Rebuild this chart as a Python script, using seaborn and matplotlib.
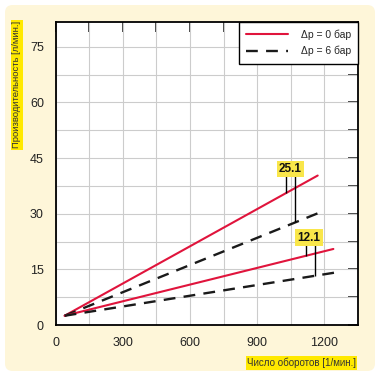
import numpy as np
import pandas as pd
import seaborn as sns
import matplotlib.pyplot as plt
from matplotlib.patches import FancyBboxPatch
from matplotlib.ticker import MultipleLocator, FuncFormatter
from matplotlib.lines import Line2D

# данные
rpm_025_0 = [40, 1170]
flow_025_0 = [2.5, 40.3]
rpm_025_6 = [40, 1190]
flow_025_6 = [2.5, 30.6]
rpm_012_0 = [40, 1240]
flow_012_0 = [2.5, 20.5]
rpm_012_6 = [40, 1275]
flow_012_6 = [2.5, 14.4]
labels_dp = ['Δp = 0 бар', 'Δp = 6 бар']
sizes = ['25.1', '12.1']

RED = '#e0143c'
YEL = '#ffe900'
CREAM = '#fef6d9'

sns.set_style('white')
plt.rcParams['font.family'] = ['Liberation Sans', 'DejaVu Sans']

fig = plt.figure(figsize=(3.81, 3.76), dpi=100, facecolor='white')
bg = FancyBboxPatch((5 / 381, 5 / 376), 370 / 381, 366 / 376,
                    boxstyle='round,pad=0,rounding_size=0.02',
                    transform=fig.transFigure, facecolor=CREAM, edgecolor='none', zorder=-10)
fig.patches.append(bg)

ax = fig.add_axes([55.7 / 381, 1 - 325 / 376, (358 - 55.7) / 381, (325 - 22) / 376])
ax.set_facecolor('white')

sns.lineplot(x=rpm_025_0, y=flow_025_0, color=RED, lw=1.5, ax=ax)
sns.lineplot(x=rpm_025_6, y=flow_025_6, color='#1a1a1a', lw=1.7, linestyle=(0, (5, 3.5)), ax=ax)
sns.lineplot(x=rpm_012_0, y=flow_012_0, color=RED, lw=1.5, ax=ax)
sns.lineplot(x=rpm_012_6, y=flow_012_6, color='#1a1a1a', lw=1.7, linestyle=(0, (5, 3.5)), ax=ax)

ax.set_xlim(0, 1350)
ax.set_ylim(0, 81.7)
ax.xaxis.set_major_locator(MultipleLocator(150))
ax.yaxis.set_major_locator(MultipleLocator(7.5))
ax.xaxis.set_major_formatter(FuncFormatter(lambda v, p: f'{v:.0f}' if round(v) % 300 == 0 else ''))
ax.yaxis.set_major_formatter(FuncFormatter(lambda v, p: f'{v:.0f}' if abs(v / 15 - round(v / 15)) < 1e-6 else ''))
ax.grid(True, color='#cccccc', lw=0.8)
ax.set_axisbelow(True)
for s in ax.spines.values():
    s.set_color('black')
    s.set_linewidth(1.3)
ax.tick_params(axis='both', which='major', direction='inout', length=12, width=1.2,
               color='black', labelsize=9, labelcolor='#222222', pad=2.5,
               top=False, right=False)
# внутренние риски сверху и справа
ax2 = ax.secondary_xaxis('top')
ax2.xaxis.set_major_locator(MultipleLocator(150))
ax2.tick_params(direction='in', length=7, width=1.2, labeltop=False)
ay2 = ax.secondary_yaxis('right')
ay2.yaxis.set_major_locator(MultipleLocator(7.5))
ay2.tick_params(direction='in', length=7, width=1.2, labelright=False)
for a in (ax2, ay2):
    for s in a.spines.values():
        s.set_visible(False)

# выноски
leaders = [
    (sizes[0], 1048, 42.1, 40.2, [(1030, rpm_025_0, flow_025_0), (1070, rpm_025_6, flow_025_6)]),
    (sizes[1], 1130, 23.5, 21.9, [(1118, rpm_012_0, flow_012_0), (1157, rpm_012_6, flow_012_6)]),
]
for txt, tx, ty, yb, legs in leaders:
    for lx, xs, ys in legs:
        ax.vlines(lx, np.interp(lx, xs, ys), yb, color='black', lw=1.0, zorder=4)
    ax.text(tx, ty, txt, ha='center', va='center', fontsize=8.5, fontweight='bold',
            color='#111111', zorder=5,
            bbox=dict(boxstyle='square,pad=0.2', facecolor='#f9e64a', edgecolor='none'))

handles = [Line2D([], [], color=RED, lw=1.5),
           Line2D([], [], color='#1a1a1a', lw=1.7, linestyle=(0, (5, 3.5)))]
leg = ax.legend(handles, labels_dp, loc='upper right', borderaxespad=0, fancybox=False,
                edgecolor='black', framealpha=1, fontsize=7.5, handlelength=4,
                borderpad=0.7, labelspacing=0.6, handletextpad=1.2)
leg.get_frame().set_linewidth(1.0)

fig.text(17 / 381, 1 - 21 / 376, 'Производительность [л/мин.]', rotation=90,
         ha='center', va='top', fontsize=6.8, color='#333333',
         bbox=dict(boxstyle='square,pad=0.15', facecolor=YEL, edgecolor='none'))
fig.text(356 / 381, 1 - 363 / 376, 'Число оборотов [1/мин.]', ha='right', va='center',
         fontsize=7, color='#333333',
         bbox=dict(boxstyle='square,pad=0.15', facecolor=YEL, edgecolor='none'))

fig.savefig('out.png', dpi=100, facecolor='white')
